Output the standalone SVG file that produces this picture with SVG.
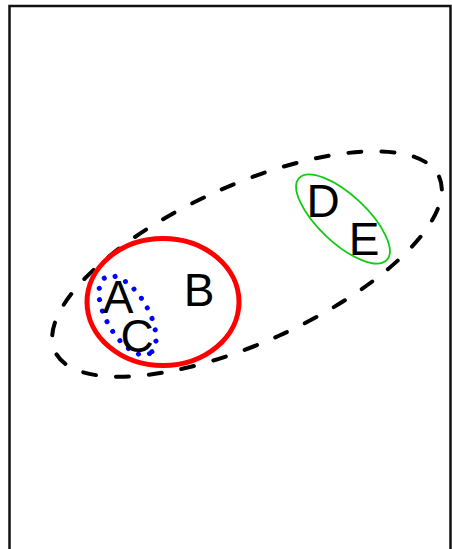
<svg xmlns="http://www.w3.org/2000/svg" width="452" height="549" viewBox="0 0 452 549">
<style>
.lbl{font-family:"Liberation Sans",Arial,sans-serif;font-size:46px;fill:#000;text-anchor:middle}
.frame{fill:none;stroke:#111;stroke-width:2.5}
</style>
<rect width="452" height="549" fill="#fff"/>
<path class="frame" d="M9.5,552 V6 H450.5 V552"/>
<g id="DE-set">
<ellipse cx="247" cy="264" rx="211" ry="78.5" transform="rotate(-24.4 247 264)" fill="none" stroke="#000" stroke-width="4" stroke-linecap="round" stroke-dasharray="13 20"/>
</g>
<g id="B">
<ellipse cx="163" cy="302" rx="76" ry="63.5" fill="none" stroke="#f00" stroke-width="5"/>
<text class="lbl" x="199" y="306">B</text>
</g>
<g id="AC">
<ellipse cx="127.5" cy="315.5" rx="44" ry="21" transform="rotate(60 127.5 315.5)" fill="none" stroke="#00f" stroke-width="5" stroke-linecap="round" stroke-dasharray="0 11.5"/>
<text class="lbl" x="118" y="313">A</text>
<text class="lbl" x="137" y="352">C</text>
</g>
<g id="DE">
<ellipse cx="343" cy="219" rx="60" ry="24" transform="rotate(43 343 219)" fill="none" stroke="#1c1" stroke-width="1.8"/>
<text class="lbl" x="323" y="217">D</text>
<text class="lbl" x="364" y="255">E</text>
</g>
</svg>
